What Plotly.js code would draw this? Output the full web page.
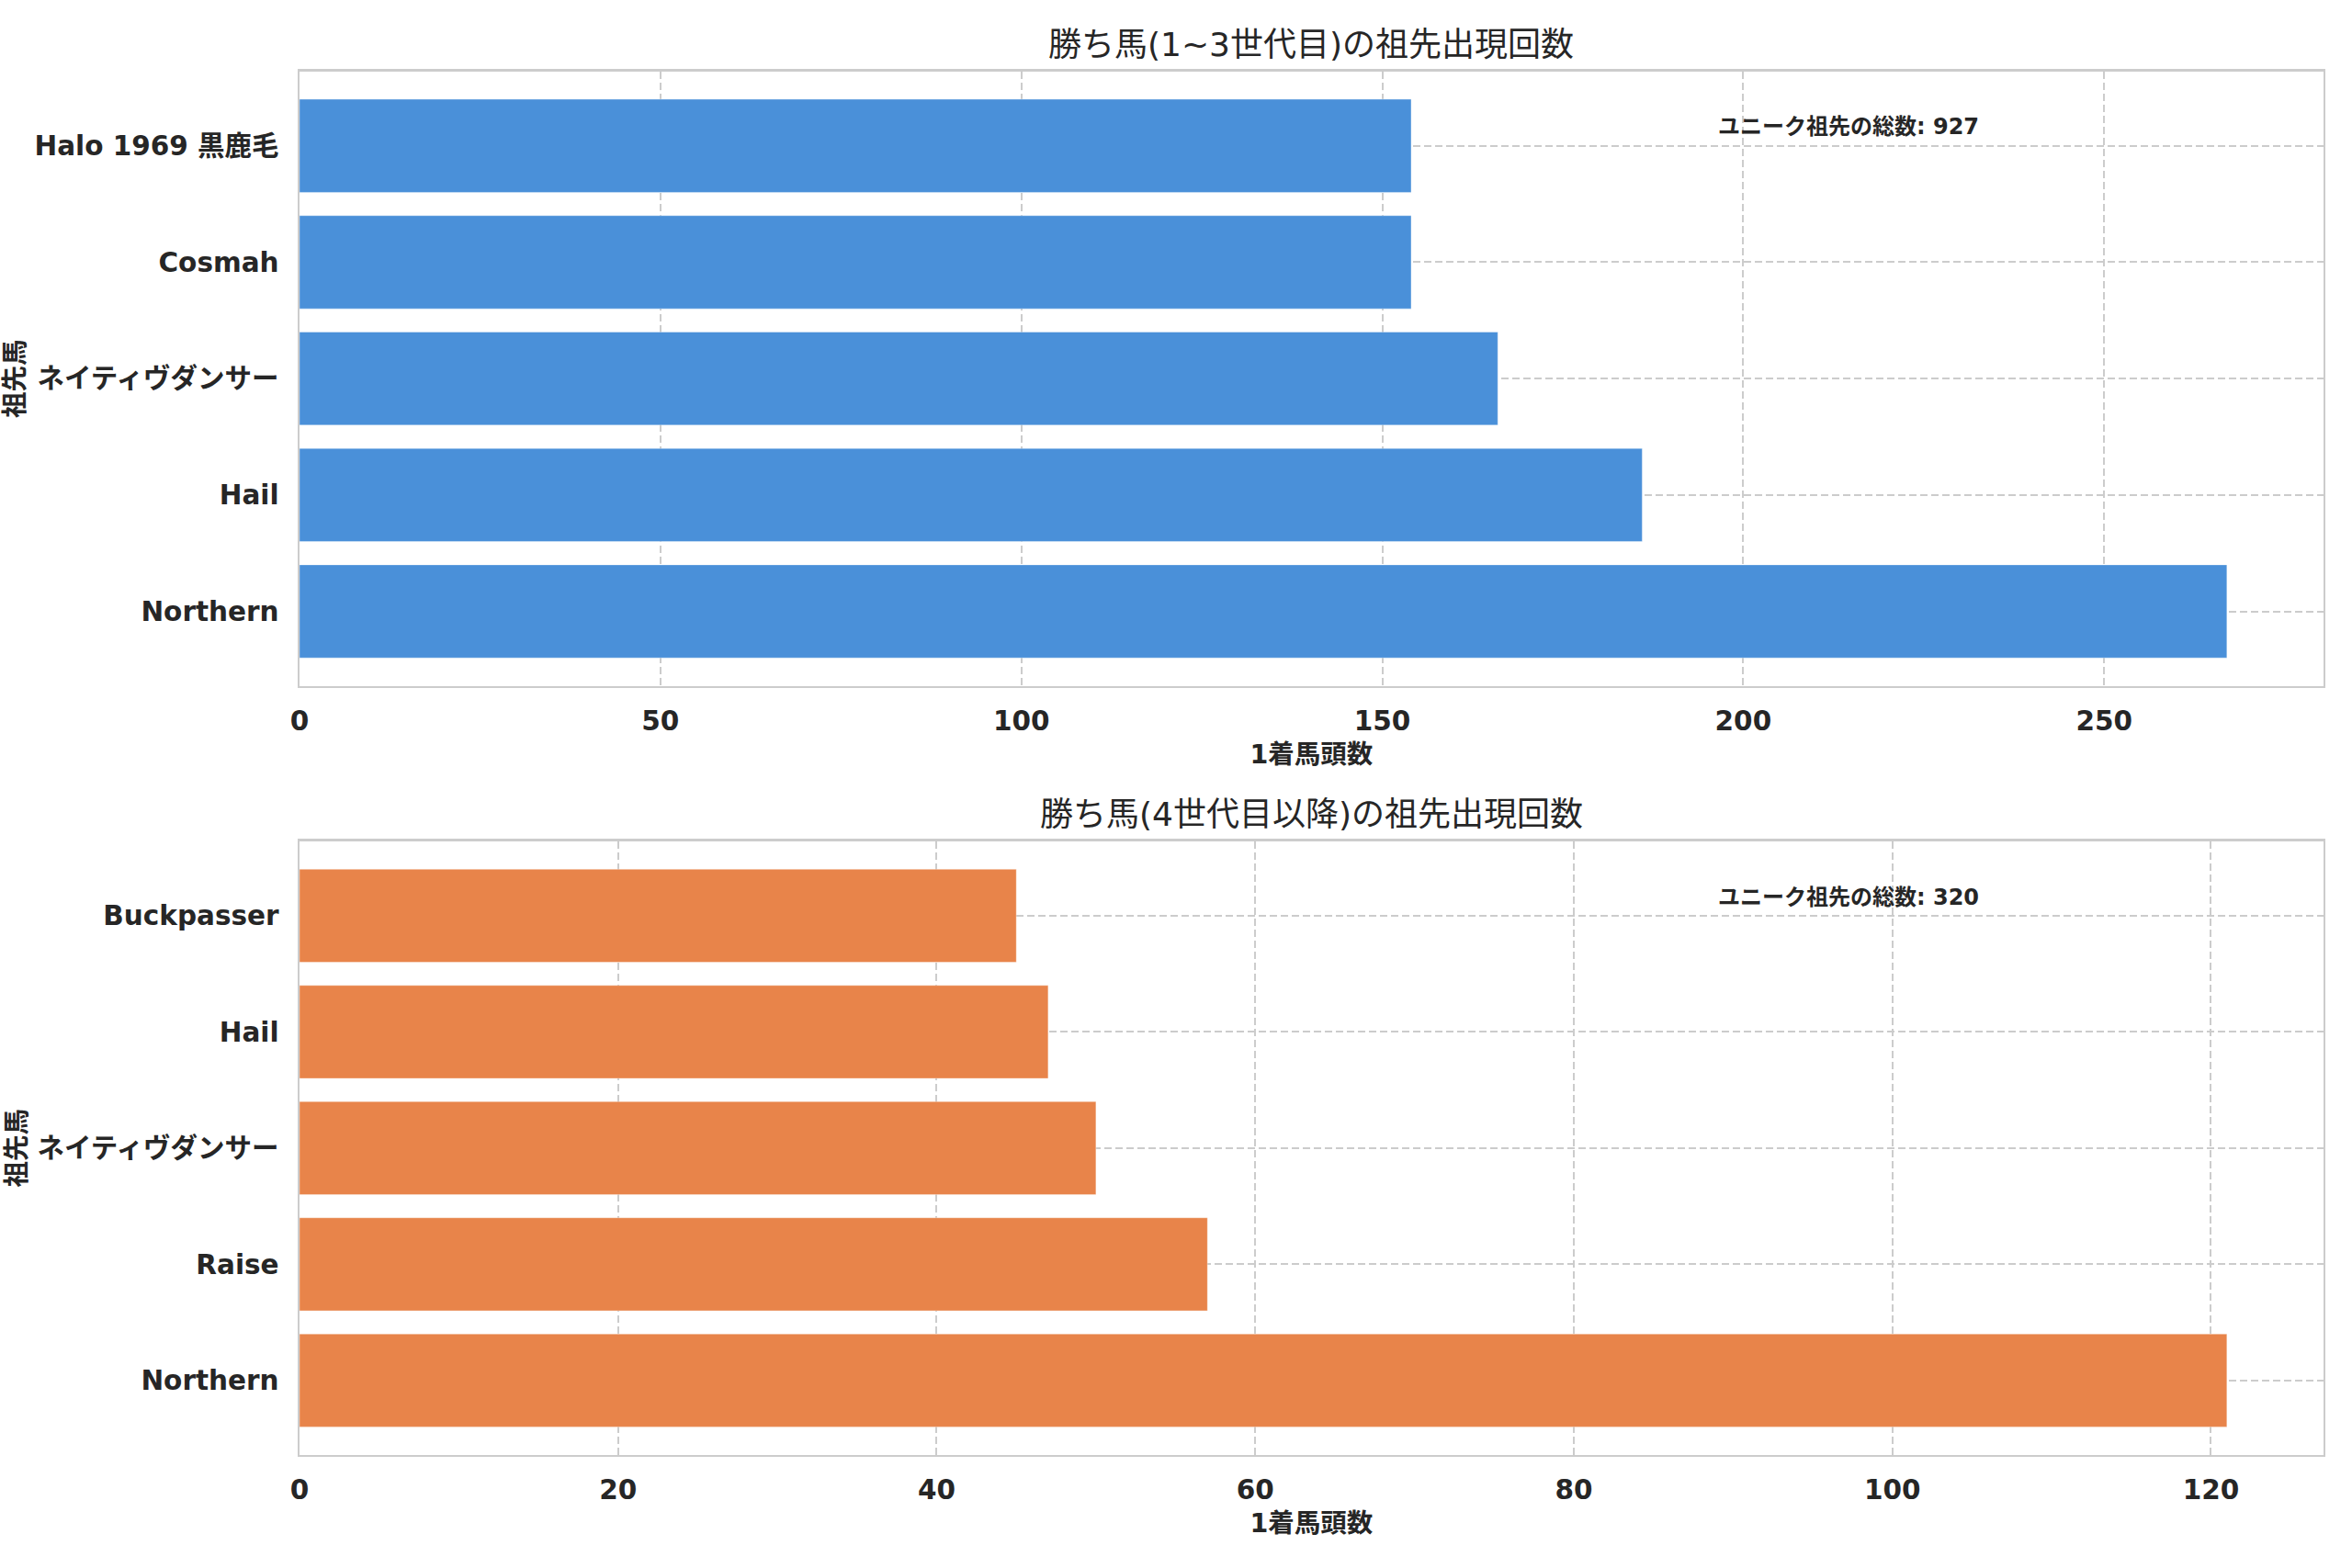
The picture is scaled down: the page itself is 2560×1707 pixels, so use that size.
<!DOCTYPE html>
<html>
<head>
<meta charset="utf-8">
<script src="https://cdn.plot.ly/plotly-3.0.1.min.js"></script>
<style>
  html, body { margin: 0; padding: 0; background: #fff; }
  #chart { width: 2560px; height: 1707px; }
</style>
</head>
<body>
<div id="chart"></div>
<script>
// top panel: generations 1-3
var topNames = ['Halo 1969 黒鹿毛', 'Cosmah', 'ネイティヴダンサー', 'Hail', 'Northern'];
var topCounts = [154, 154, 166, 186, 267];
var topTotal = 927;

// bottom panel: generation 4 and later
var bottomNames = ['Buckpasser', 'Hail', 'ネイティヴダンサー', 'Raise', 'Northern'];
var bottomCounts = [45, 47, 50, 57, 121];
var bottomTotal = 320;

var topTitle = '勝ち馬(1~3世代目)の祖先出現回数';
var bottomTitle = '勝ち馬(4世代目以降)の祖先出現回数';
var xLabel = '1着馬頭数';
var yLabel = '祖先馬';
var totalLabel = 'ユニーク祖先の総数';

var FONT = 'DejaVu Sans, Noto Sans CJK JP, sans-serif';
var INK = '#262626';
var GRID = '#cccccc';

var trace1 = {
  x: topCounts,
  y: topNames,
  type: 'bar',
  orientation: 'h',
  width: 0.8,
  xaxis: 'x',
  yaxis: 'y',
  marker: { color: '#4a90d9', line: { color: 'rgba(255,255,255,0.35)', width: 1 } },
  hoverinfo: 'x+y'
};

var trace2 = {
  x: bottomCounts,
  y: bottomNames,
  type: 'bar',
  orientation: 'h',
  width: 0.8,
  xaxis: 'x2',
  yaxis: 'y2',
  marker: { color: '#e8844a', line: { color: 'rgba(255,255,255,0.35)', width: 1 } },
  hoverinfo: 'x+y'
};

function xAxis(maxVal, step, anchor, domain) {
  return {
    domain: domain,
    anchor: anchor,
    range: [0, maxVal * 1.05],
    dtick: step,
    tick0: 0,
    showgrid: true,
    gridcolor: GRID,
    griddash: '8px,4px',
    gridwidth: 2,
    zeroline: false,
    showline: true,
    mirror: true,
    linecolor: GRID,
    linewidth: 2.5,
    ticks: '',
    ticklabelstandoff: 10,
    tickfont: { family: FONT, size: 29.5, color: INK, weight: 'bold' },
    title: {
      text: xLabel,
      standoff: 11,
      font: { family: FONT, size: 28.5, color: INK, weight: 'bold' }
    }
  };
}

function yAxis(names, anchor, domain) {
  return {
    domain: domain,
    anchor: anchor,
    type: 'category',
    categoryorder: 'array',
    categoryarray: names,
    range: [names.length - 1 + 0.64, -0.64],
    showgrid: true,
    gridcolor: GRID,
    griddash: '8px,4px',
    gridwidth: 2,
    zeroline: false,
    showline: true,
    mirror: true,
    linecolor: GRID,
    linewidth: 2.5,
    ticks: '',
    ticklabelstandoff: 14,
    tickfont: { family: FONT, size: 29.5, color: INK, weight: 'bold' },
    title: {
      text: yLabel,
      standoff: 4,
      font: { family: FONT, size: 28.5, color: INK, weight: 'bold' }
    }
  };
}

var xDom = [326 / 2560, 2528.7 / 2560];

var layout = {
  width: 2560,
  height: 1707,
  margin: { l: 0, r: 0, t: 0, b: 0 },
  paper_bgcolor: '#ffffff',
  plot_bgcolor: '#ffffff',
  showlegend: false,
  xaxis: xAxis(Math.max.apply(null, topCounts), 50, 'y', xDom),
  yaxis: yAxis(topNames, 'x', [0.5626, 0.9545]),
  xaxis2: xAxis(Math.max.apply(null, bottomCounts), 20, 'y2', xDom),
  yaxis2: yAxis(bottomNames, 'x2', [0.0722, 0.4634]),
  annotations: [
    {
      text: topTitle, xref: 'x domain', yref: 'paper', x: 0.5, y: 0.9713,
      xanchor: 'center', yanchor: 'middle', showarrow: false,
      font: { family: FONT, size: 36, color: INK }
    },
    {
      text: bottomTitle, xref: 'x2 domain', yref: 'paper', x: 0.5, y: 0.4807,
      xanchor: 'center', yanchor: 'middle', showarrow: false,
      font: { family: FONT, size: 36, color: INK }
    },
    {
      text: totalLabel + ': ' + topTotal, xref: 'x domain', yref: 'y domain', x: 0.7, y: 0.933,
      xanchor: 'left', yanchor: 'top', showarrow: false,
      font: { family: FONT, size: 24, color: INK, weight: 'bold' }
    },
    {
      text: totalLabel + ': ' + bottomTotal, xref: 'x2 domain', yref: 'y2 domain', x: 0.7, y: 0.933,
      xanchor: 'left', yanchor: 'top', showarrow: false,
      font: { family: FONT, size: 24, color: INK, weight: 'bold' }
    }
  ]
};

Plotly.newPlot('chart', [trace1, trace2], layout, { displayModeBar: false, staticPlot: true });
</script>
</body>
</html>
